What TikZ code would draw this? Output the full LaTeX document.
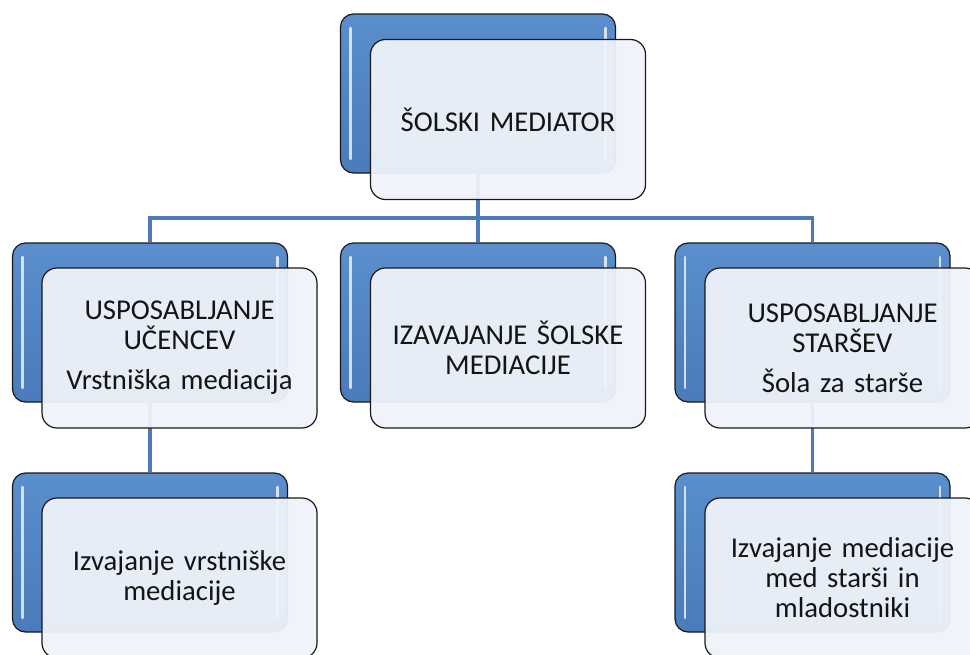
\documentclass[tikz,border=0pt]{standalone}
\usepackage{fontspec}
\setmainfont[WordSpace=0.75]{Carlito}
\definecolor{blueT}{HTML}{5A8ECC}
\definecolor{blueB}{HTML}{4A7BBA}
\definecolor{frontfill}{HTML}{EFF3FA}
\definecolor{connc}{HTML}{4A7AB8}
\tikzset{
  bluebox/.style={rectangle, rounded corners=13, minimum width=275, minimum height=159,
    inner sep=0, draw=black!90, line width=1.2, top color=blueT, bottom color=blueB,
    path picture={
      \draw[white, opacity=.75, line width=2.6, line cap=round]
        ([xshift=10,yshift=-14]path picture bounding box.north west) --
        ([xshift=10,yshift=14]path picture bounding box.south west);
      \draw[white, opacity=.75, line width=2.6, line cap=round]
        ([xshift=-10,yshift=-14]path picture bounding box.north east) --
        ([xshift=-10,yshift=14]path picture bounding box.south east);
    }},
  frontbox/.style={rectangle, rounded corners=15, minimum width=275, minimum height=160,
    inner sep=0, draw=black!90, line width=1.2, fill=frontfill, fill opacity=0.95,
    text opacity=1, align=center, text width=265, text=black!92,
    font=\fontsize{28.7}{30}\selectfont},
  conn/.style={draw=connc, line width=3.4},
}
\begin{document}
\begin{tikzpicture}[x=1pt,y=-1pt]
\clip (0,0) rectangle (970,654);
\coordinate (bus) at (0,218);
% blue back boxes
\node[bluebox] (b0) at (478,93.5) {};
\node[bluebox] (b1) at (150,322.5) {};
\node[bluebox] (b2) at (478,322.5) {};
\node[bluebox] (b3) at (812.5,322.5) {};
\node[bluebox] (b4) at (150,552.5) {};
\node[bluebox] (b5) at (812.5,552.5) {};
% connectors
\draw[conn] (b0.south) -- (b0.south |- bus) -| (b1.north);
\draw[conn] (b0.south |- bus) -| (b3.north);
\draw[conn] (b0.south |- bus) -- (b2.north);
\draw[conn] (b1.south) -- (b4.north);
\draw[conn] (b3.south) -- (b5.north);
% front boxes
\node[frontbox] (f0) at (508,119.5) {ŠOLSKI MEDIATOR};
\node[frontbox] (f1) at (179.5,348) {USPOSABLJANJE\\UČENCEV\\[10pt]Vrstniška mediacija};
\node[frontbox] (f2) at (508,348) {IZAVAJANJE ŠOLSKE\\MEDIACIJE};
\node[frontbox] (f3) at (842.5,348) {USPOSABLJANJE\\STARŠEV\\[10pt]Šola za starše};
\node[frontbox] (f4) at (179.5,578) {Izvajanje vrstniške\\mediacije};
\node[frontbox] (f5) at (842.5,578) {Izvajanje mediacije\\med starši in\\mladostniki};
\end{tikzpicture}
\end{document}
